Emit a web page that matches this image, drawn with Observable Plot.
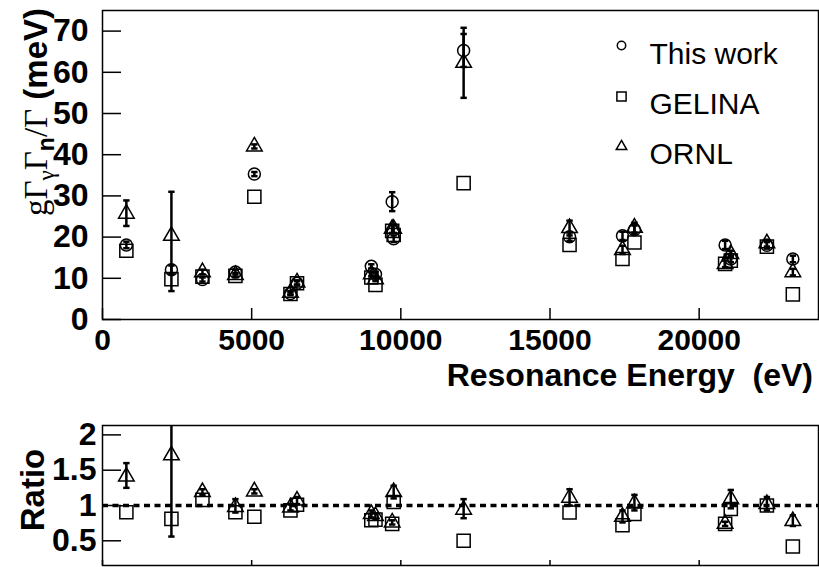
<!DOCTYPE html>
<html><head><meta charset="utf-8">
<script src="https://cdn.jsdelivr.net/npm/d3@7"></script>
<script src="https://cdn.jsdelivr.net/npm/@observablehq/plot@0.6"></script>
<style>
body{margin:0;background:#fff;}
#chart{position:relative;width:819px;height:567px;background:#fff;}
#chart svg{position:absolute;left:0;}
</style></head><body><div id="chart"></div>
<script>
// Resonance energies (eV)
const energy   = [800, 2310, 3350, 4455, 5090, 6300, 6520, 9010, 9150, 9710, 9760, 12105, 15655, 17430, 17830, 20870, 21060, 22270, 23140];
// g Γγ Γn / Γ (meV)
const thisWork = [18.1, 12.1, 9.7, 11.5, 35.3, 6.3, 8.8, 12.9, 11.0, 28.6, 19.6, 65.3, 20.1, 20.3, 21.8, 18.1, 14.7, 18.0, 14.7];
const thisErr  = [0.8, 1.0, 0.5, 0.6, 0.5, 0.4, 0.5, 0.5, 0.5, 2.3, 0.8, 4.0, 1.0, 1.0, 1.0, 1.0, 0.8, 0.8, 0.8];
const gelina   = [16.7, 9.8, 10.4, 10.6, 29.8, 6.2, 8.8, 10.2, 8.4, 21.5, 20.5, 33.1, 18.1, 14.7, 18.7, 13.5, 14.3, 17.7, 6.1];
const ornl     = [25.7, 20.3, 11.5, 10.8, 42.0, 6.5, 9.0, 11.0, 9.8, 22.0, 22.0, 62.3, 22.2, 16.9, 22.3, 13.5, 15.9, 18.5, 11.5];
const ornlLo   = [22.7, 6.9, 10.9, 10.3, 41.5, 6.1, 8.5, 10.5, 9.3, 21.0, 21.0, 53.8, 20.4, 15.9, 21.1, 12.7, 15.1, 17.7, 10.7];
const ornlHi   = [28.9, 31.0, 12.1, 11.3, 42.5, 6.9, 9.5, 11.5, 10.3, 23.0, 23.0, 70.8, 24.0, 17.9, 23.5, 14.3, 16.7, 19.3, 12.3];
// Ratios to this work
const ratioGel  = [0.905, 0.81, 1.08, 0.905, 0.84, 0.93, 1.01, 0.79, 0.80, 0.74, 1.05, 0.50, 0.90, 0.72, 0.88, 0.74, 0.95, 1.00, 0.42];
const ratioOrnl = [1.41, 1.71, 1.19, 0.98, 1.20, 0.97, 1.07, 0.88, 0.85, 0.76, 1.19, 0.94, 1.11, 0.84, 1.03, 0.74, 1.09, 1.02, 0.78];
const ratioLo   = [1.25, 0.56, 1.15, 0.90, 1.17, 0.93, 1.02, 0.83, 0.81, 0.73, 1.10, 0.82, 1.00, 0.76, 0.93, 0.71, 0.96, 0.93, 0.71];
const ratioHi   = [1.60, 2.20, 1.23, 1.09, 1.23, 1.02, 1.12, 0.93, 0.89, 0.79, 1.28, 1.09, 1.23, 0.93, 1.15, 0.77, 1.22, 1.12, 0.86];
// Ticks and labels
const xTicks = [0, 5000, 10000, 15000, 20000];
const yTicks = [0, 10, 20, 30, 40, 50, 60, 70];
const rTicks = [0.5, 1, 1.5, 2];
const legendLabels = ["This work", "GELINA", "ORNL"];

const rows = energy.map((e, i) => ({
  e, tw: thisWork[i], twErr: thisErr[i], gel: gelina[i], ornl: ornl[i],
  oLo: ornlLo[i], oHi: ornlHi[i],
  rg: ratioGel[i], ro: ratioOrnl[i], rLo: ratioLo[i], rHi: ratioHi[i]
}));

const cap = {draw(ctx, size) { const w = Math.sqrt(size) / 2; ctx.moveTo(-w, 0); ctx.lineTo(w, 0); }};
const SANS = "'Liberation Sans', Arial, Helvetica, sans-serif";
const SERIF = "'Liberation Serif', 'Times New Roman', serif";
const mk = {stroke: "black", fill: "none", strokeWidth: 1.5};
const eb = {stroke: "black", strokeWidth: 2.5};
const cp = {symbol: cap, r: 3.6, stroke: "black", strokeWidth: 2.5};

const topPlot = Plot.plot({
  width: 819, height: 400,
  marginLeft: 102, marginRight: 1, marginTop: 10, marginBottom: 81,
  x: {domain: [0, 24000]},
  y: {domain: [0, 75]},
  style: {fontFamily: SANS, background: "white", color: "black", overflow: "visible"},
  marks: [
    Plot.axisX({ticks: xTicks, tickSize: 0, tickPadding: 9, tickFormat: d3.format("d"), fontSize: 30, fontWeight: "bold", label: null}),
    Plot.axisX({ticks: xTicks, tickSize: -11, text: null, label: null, strokeWidth: 1.5}),
    Plot.axisY({ticks: yTicks, tickSize: 0, tickPadding: 14, tickFormat: d3.format("d"), fontSize: 32, fontWeight: "bold", label: null}),
    Plot.axisY({ticks: yTicks, tickSize: -19, text: null, label: null, strokeWidth: 1.5}),
    // error bars
    Plot.ruleX(rows, {x: "e", y1: d => d.tw - d.twErr, y2: d => d.tw + d.twErr, ...eb}),
    Plot.dot(rows, {x: "e", y: d => d.tw - d.twErr, ...cp}),
    Plot.dot(rows, {x: "e", y: d => d.tw + d.twErr, ...cp}),
    Plot.ruleX(rows, {x: "e", y1: "oLo", y2: "oHi", ...eb}),
    Plot.dot(rows, {x: "e", y: "oLo", ...cp}),
    Plot.dot(rows, {x: "e", y: "oHi", ...cp}),
    // markers
    Plot.dot(rows, {x: "e", y: "gel", symbol: "square", r: 7.4, ...mk}),
    Plot.dot(rows, {x: "e", y: "ornl", symbol: "triangle", r: 5.8, ...mk}),
    Plot.dot(rows, {x: "e", y: "tw", symbol: "circle", r: 6, ...mk}),
    // legend
    Plot.dot([legendLabels[0]], {frameAnchor: "top-left", dx: 519, dy: 35, symbol: "circle", r: 4.2, ...mk}),
    Plot.dot([legendLabels[1]], {frameAnchor: "top-left", dx: 519, dy: 86, symbol: "square", r: 5.2, ...mk}),
    Plot.dot([legendLabels[2]], {frameAnchor: "top-left", dx: 519, dy: 136, symbol: "triangle", r: 3.9, ...mk}),
    Plot.text([legendLabels[0]], {frameAnchor: "top-left", text: d => d, dx: 547, dy: 32, textAnchor: "start", fontSize: 30, fill: "black"}),
    Plot.text([legendLabels[1]], {frameAnchor: "top-left", text: d => d, dx: 547, dy: 82, textAnchor: "start", fontSize: 30, fill: "black"}),
    Plot.text([legendLabels[2]], {frameAnchor: "top-left", text: d => d, dx: 547, dy: 132, textAnchor: "start", fontSize: 30, fill: "black"}),
    Plot.frame({stroke: "black", strokeWidth: 1.5})
  ]
});

const botPlot = Plot.plot({
  width: 819, height: 167,
  marginLeft: 102, marginRight: 1, marginTop: 25, marginBottom: 2,
  x: {domain: [0, 24000]},
  y: {domain: [0.15, 2.133]},
  style: {fontFamily: SANS, background: "white", color: "black", overflow: "visible"},
  marks: [
    Plot.axisX({ticks: xTicks, tickSize: -5, text: null, label: null, strokeWidth: 1.5}),
    Plot.axisY({ticks: rTicks, tickSize: 0, tickPadding: 6, tickFormat: d => String(d), fontSize: 32, fontWeight: "bold", label: null}),
    Plot.axisY({ticks: rTicks, tickSize: -19, text: null, label: null, strokeWidth: 1.5}),
    Plot.ruleY([1], {stroke: "black", strokeWidth: 3.5, strokeDasharray: "6,4.5"}),
    Plot.ruleX(rows, {x: "e", y1: "rLo", y2: "rHi", ...eb, clip: true}),
    Plot.dot(rows, {x: "e", y: "rLo", ...cp, clip: true}),
    Plot.dot(rows, {x: "e", y: "rHi", ...cp, clip: true}),
    Plot.dot(rows, {x: "e", y: "rg", symbol: "square", r: 7.4, ...mk}),
    Plot.dot(rows, {x: "e", y: "ro", symbol: "triangle", r: 5.8, ...mk}),
    Plot.frame({stroke: "black", strokeWidth: 1.5})
  ]
});

const chart = document.getElementById("chart");
topPlot.style.top = "0px";
botPlot.style.top = "400px";
chart.appendChild(topPlot);
chart.appendChild(botPlot);

// Axis titles
const st = d3.select(topPlot);
st.append("text")
  .attr("x", 813).attr("y", 386).attr("text-anchor", "end")
  .attr("font-family", SANS).attr("font-weight", "bold").attr("font-size", 32).attr("fill", "black")
  .text("Resonance Energy\u00a0 (eV)");

const yt = st.append("text")
  .attr("transform", "translate(47,8) rotate(-90)").attr("text-anchor", "end")
  .attr("font-size", 33).attr("fill", "black");
yt.append("tspan").attr("font-family", SERIF).text("gΓ");
yt.append("tspan").attr("font-family", SERIF).attr("font-size", 23).attr("dy", 7).text("γ");
yt.append("tspan").attr("font-family", SERIF).attr("dy", -7).text("Γ");
yt.append("tspan").attr("font-family", SANS).attr("font-weight", "bold").attr("font-size", 23).attr("dy", 7).text("n");
yt.append("tspan").attr("font-family", SERIF).attr("dy", -7).text("/Γ");
yt.append("tspan").attr("font-family", SANS).attr("font-weight", "bold").text("\u00a0(meV)");

d3.select(botPlot).append("text")
  .attr("transform", "translate(44,90) rotate(-90)").attr("text-anchor", "middle")
  .attr("font-family", SANS).attr("font-weight", "bold").attr("font-size", 33).attr("fill", "black")
  .text("Ratio");
</script>
</body></html>
